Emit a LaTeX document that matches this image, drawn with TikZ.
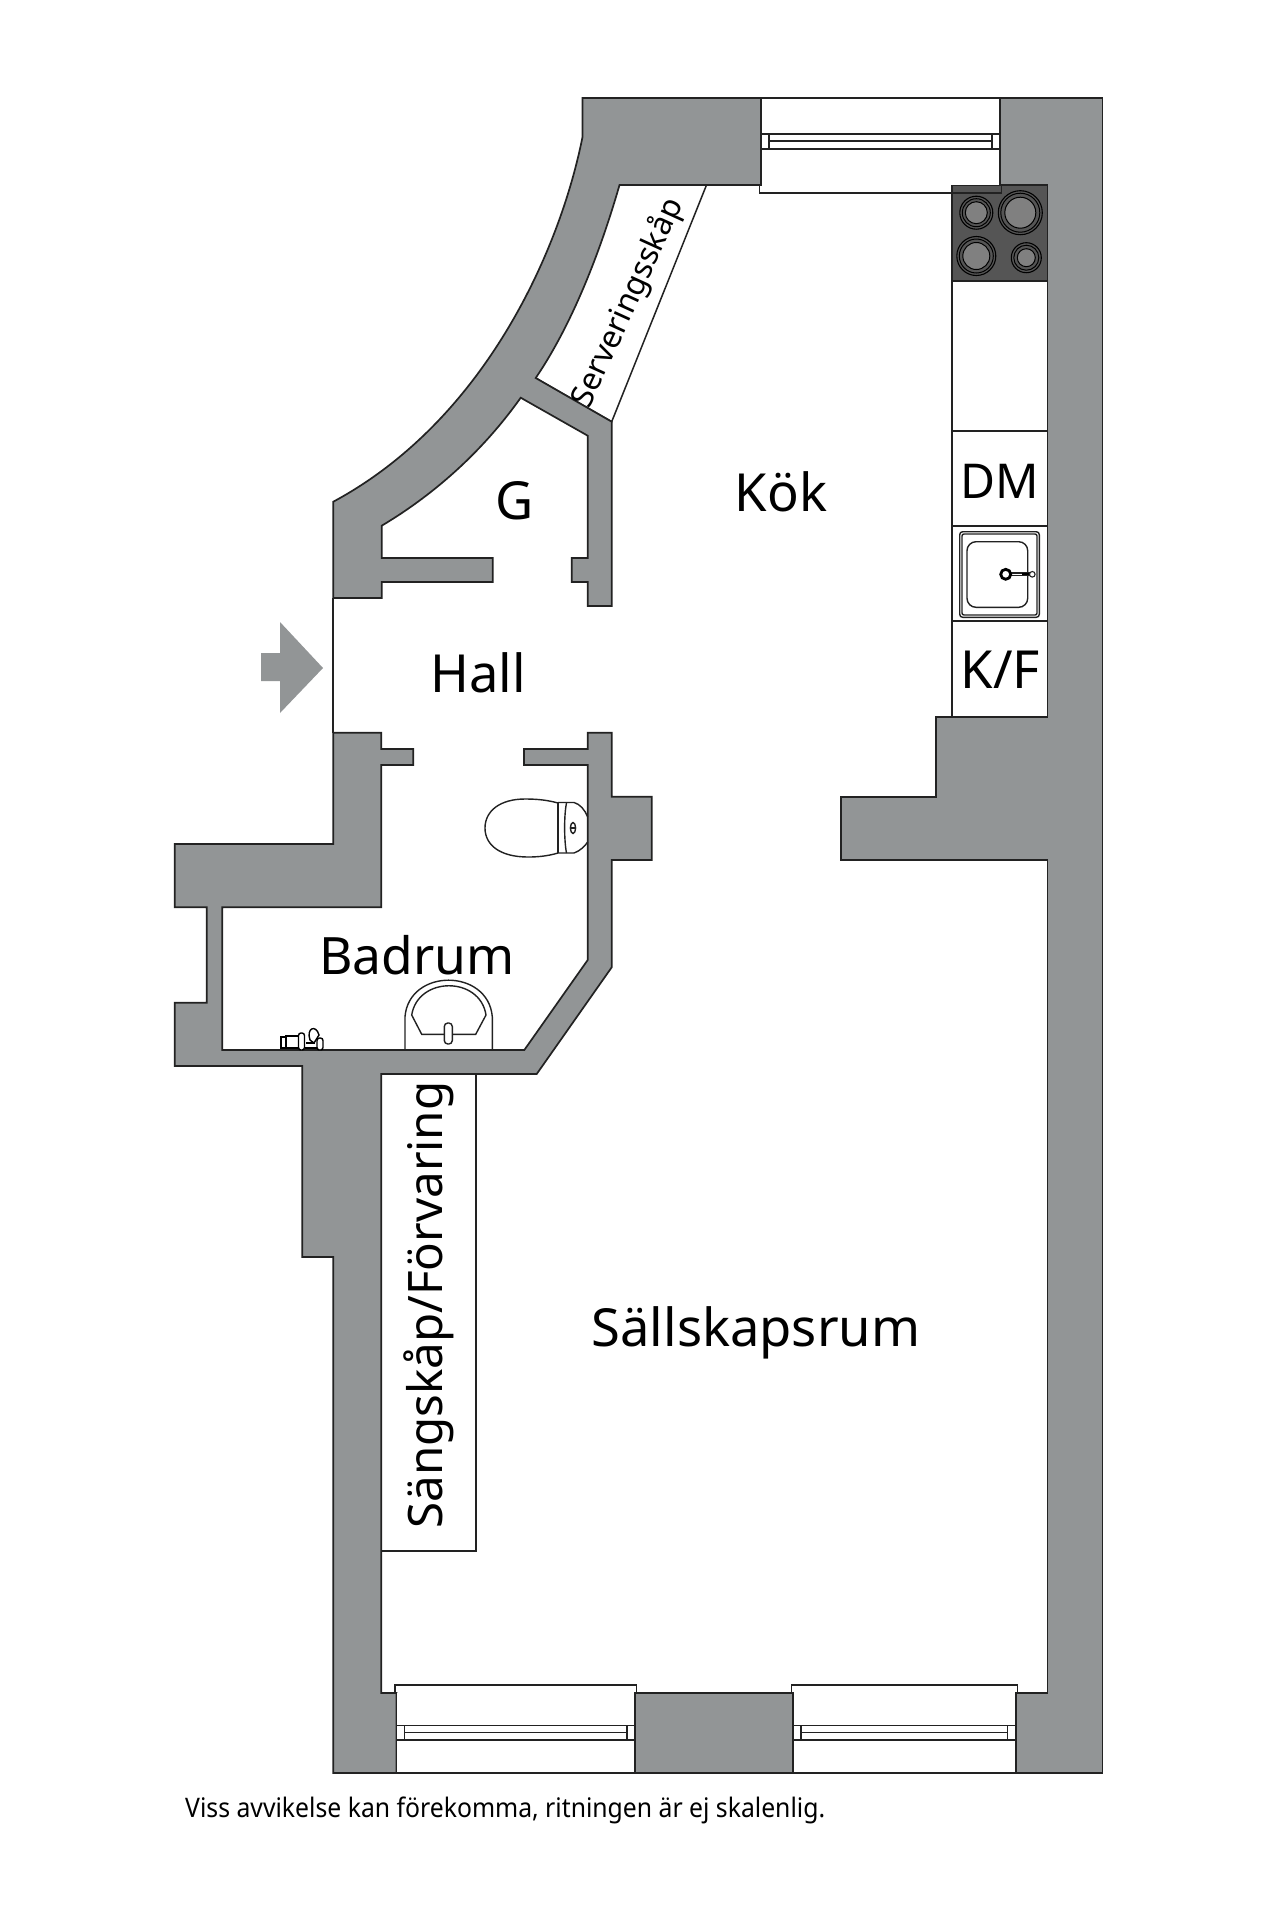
\documentclass[tikz,border=0pt]{standalone}
\usepackage{fontspec}
\setmainfont{Noto Sans}
\newfontfamily\notefont[FakeStretch=0.92]{Noto Sans}
\definecolor{wallgray}{HTML}{929596}
\definecolor{linedark}{HTML}{222222}
\definecolor{hobdark}{HTML}{555555}
\definecolor{ringgray}{HTML}{808080}
\tikzset{
  wall/.style={fill=wallgray,draw=linedark,line width=1.7pt,line join=miter},
  fixture/.style={fill=white,draw=linedark,line width=1.5pt},
  thinline/.style={draw=linedark,line width=1.4pt},
  roomlabel/.style={font=\fontsize{52.5}{60}\selectfont,inner sep=0pt,text=black},
  closetlabel/.style={font=\fontsize{47.5}{56}\selectfont,inner sep=0pt,text=black},
  smalllabel/.style={font=\fontsize{31.5}{38}\selectfont,inner sep=0pt,text=black},
  notelabel/.style={font=\notefont\fontsize{26.9}{32}\selectfont,inner sep=0pt,text=black,anchor=west}
}
\newcommand{\windowunit}[8]{%
  % #1 wall left, #2 wall right, #3 outer y, #4 inner y, #5 sill y, #6 frame y1, #7 mid, #8 frame y2
  \fill[white] (#1,#3) rectangle (#2,#4);
  \draw[thinline] (#1,#3) -- (#1,#4) (#2,#3) -- (#2,#4);
  \draw[thinline] (#1-1.5,#4) -- (#1-1.5,#5) -- (#2+1.5,#5) -- (#2+1.5,#4);
  \draw[thinline] (#1,#6) -- (#2,#6) (#1+8,#7) -- (#2-8,#7) (#1,#8) -- (#2,#8);
  \draw[thinline] (#1+8,#6) -- (#1+8,#8) (#2-8,#6) -- (#2-8,#8);
}
\newcommand{\burner}[4]{%
  \filldraw[draw=black,line width=1.1pt,fill=hobdark] (#1,#2) circle (#3);
  \draw[black,line width=1pt] (#1,#2) circle (#3-2.5);
  \filldraw[draw=black,line width=1pt,fill=ringgray] (#1,#2) circle (#4);
}
\begin{document}
\begin{tikzpicture}[x=1pt,y=-1pt]
\useasboundingbox (0,0) rectangle (1280,1920);
\fill[white] (0,0) rectangle (1280,1920);

% serving cabinet
\draw[fixture] (619.5,185) -- (706.5,185) -- (611.7,421.7) -- (535.7,378) -- cycle;

% closet
\draw[fixture] (381.3,1074) rectangle (476,1551);

% kitchen units
\draw[fixture] (952,185) rectangle (1047.5,281);
\draw[fixture] (952,281) rectangle (1047.5,431);
\draw[fixture] (952,431) rectangle (1047.5,526);
\draw[fixture] (952,526) rectangle (1047.5,621);
\draw[fixture] (952,621) rectangle (1047.5,717);

% hob
\filldraw[draw=linedark,line width=1.3pt,fill=hobdark] (952,185) rectangle (1047.5,281);
\burner{976.3}{212.7}{16.5}{11}
\burner{1020.3}{212.7}{22}{15.5}
\burner{976.3}{256}{19.5}{13.5}
\burner{1026.3}{257.7}{15}{9}

% kitchen sink
\draw[thinline,rounded corners=3pt] (959.7,531.7) rectangle (1039.3,617.3);
\draw[thinline,rounded corners=2pt] (962,534) rectangle (1037,615);
\draw[thinline,rounded corners=9pt] (967,541.7) rectangle (1027.7,607.3);
\draw[thinline] (1005.7,573) -- (1030,573) (1005.7,575.6) -- (1030,575.6);
\draw[black,line width=2pt] (1022,574.3) -- (1030,574.3);
\filldraw[draw=black,line width=2.8pt,fill=white] (1005.7,574.3) circle (5);
\filldraw[draw=linedark,line width=1.1pt,fill=white] (1032.3,574.3) circle (2.8);

% walls
\path[wall] (761,98) -- (582.5,98) -- (582.5,137)
  .. controls (560,250) and (485,420) .. (333.3,501.7)
  -- (333.3,598) -- (381.7,598) -- (381.7,582) -- (492.7,582) -- (492.7,558) -- (381.7,558) -- (381.7,525.7)
  .. controls (430,497) and (480,455) .. (520.7,397.7)
  -- (587.7,435.7) -- (587.7,558) -- (571.7,558) -- (571.7,582) -- (587.7,582) -- (587.7,606) -- (611.7,606)
  -- (611.7,421.7) -- (535.7,378)
  .. controls (565,335) and (595,270) .. (619.5,185)
  -- (761,185) -- cycle;

\path[wall] (333.3,732.7) -- (381.3,732.7) -- (381.3,749) -- (413.3,749) -- (413.3,765) -- (381.3,765)
  -- (381.3,907.3) -- (222.3,907.3) -- (222.3,1050) -- (524.3,1050) -- (587.7,960) -- (587.7,765)
  -- (524,765) -- (524,749) -- (587.7,749) -- (587.7,732.7) -- (611.7,732.7) -- (611.7,796.7)
  -- (651.7,796.7) -- (651.7,860) -- (611.7,860) -- (611.7,967.3) -- (536.7,1074) -- (381.3,1074)
  -- (381.3,1693) -- (396.5,1693) -- (396.5,1773) -- (333.3,1773) -- (333.3,1257) -- (302.3,1257)
  -- (302.3,1066) -- (174.7,1066) -- (174.7,1002.7) -- (206.7,1002.7) -- (206.7,907.3) -- (174.7,907.3)
  -- (174.7,844) -- (333.3,844) -- cycle;

\path[wall] (999.8,98) -- (1102.6,98) -- (1102.6,1773) -- (1015.7,1773) -- (1015.7,1693) -- (1047.5,1693)
  -- (1047.5,860) -- (841,860) -- (841,796.7) -- (936,796.7) -- (936,717) -- (1047.5,717) -- (1047.5,185)
  -- (999.8,185) -- cycle;

\path[wall] (635,1773) rectangle (793,1693);

% entrance line
\draw[draw=linedark,line width=1.9pt] (333.3,598) -- (333.3,732.7);

% windows
\windowunit{761}{999.8}{98}{185}{193}{134}{141}{149}
\windowunit{396.5}{635}{1773}{1693}{1685}{1725.7}{1732.7}{1740}
\windowunit{793}{1015.7}{1773}{1693}{1685}{1725.7}{1732.7}{1740}
\draw[thinline] (396.5,1773) -- (635,1773) (793,1773) -- (1015.7,1773);
\draw[thinline] (761,98) -- (999.8,98);

% entry arrow
\fill[wallgray] (261,653) -- (280,653) -- (280,622) -- (323,668) -- (280,713) -- (280,681) -- (261,681) -- cycle;

% toilet
\draw[thinline] (558,803) .. controls (547,800) and (537,799) .. (525,799)
  .. controls (500,799) and (485,811) .. (485,828)
  .. controls (485,845) and (500,857) .. (528,857)
  .. controls (538,857) and (548,856) .. (558,853);
\draw[thinline] (558,803) -- (558,853);
\draw[thinline] (558,802.5) -- (574,802.5) .. controls (580,804) and (585,810) .. (587.7,817);
\draw[thinline] (558,853) -- (574,853) .. controls (580,851) and (585,846) .. (587.7,842);
\draw[thinline] (566.5,803) .. controls (564,815) and (564,840) .. (566.5,853);
\draw[thinline] (573,828) ellipse (2.6 and 5.5);
\draw[thinline] (570.4,828) -- (575.6,828);

% basin
\draw[thinline] (405,1050) -- (405,1016.7) .. controls (409,968) and (488,968) .. (492.3,1016.7) -- (492.3,1050);
\draw[thinline] (421.7,1034.3) -- (411.7,1015) .. controls (418,976) and (480,976) .. (486,1015) -- (475.7,1034.3) -- cycle;
\draw[thinline,rounded corners=3.5pt,fill=white] (444.3,1023) rectangle (452.3,1044);

% bath fittings
\draw[line width=1.4pt,draw=black] (281,1037) rectangle (286,1048);
\draw[line width=1.4pt,draw=black,fill=white] (286,1036) rectangle (298.5,1048);
\draw[line width=1.4pt,draw=black,fill=white,rounded corners=2.5pt] (298.5,1033) rectangle (304.5,1050);
\draw[line width=1.4pt,draw=black,fill=white] (310,1040) .. controls (306,1028) and (316,1024) .. (319,1035) -- (314,1043) -- cycle;
\draw[line width=1.4pt,draw=black,fill=white,rounded corners=2.5pt] (317,1038) rectangle (323,1050);
\draw[line width=1.4pt,draw=black] (304.5,1048) -- (317,1048) (306,1043) -- (315,1043);

% labels
\node[roomlabel] (kok) at (781,492) {Kök};
\node[roomlabel] (hall) at (478,673) {Hall};
\node[roomlabel] (garderob) at (515,501) {G};
\node[roomlabel,font=\fontsize{51.5}{60}\selectfont] (badrum) at (417,955) {Badrum};
\node[roomlabel] (sallskap) at (756,1333) {Sällskapsrum};
\node[roomlabel,font=\fontsize{48}{60}\selectfont] (dm) at (1000,481) {DM};
\node[roomlabel] (kf) at (1000.5,670) {K/F};
\node[closetlabel,rotate=90] (sang) at (429,1305) {Sängskåp/Förvaring};
\node[smalllabel,rotate=65.5] (serv) at (628,303) {Serveringsskåp};
\node[notelabel] (note) at (185,1810) {Viss avvikelse kan förekomma, ritningen är ej skalenlig.};
\end{tikzpicture}
\end{document}
